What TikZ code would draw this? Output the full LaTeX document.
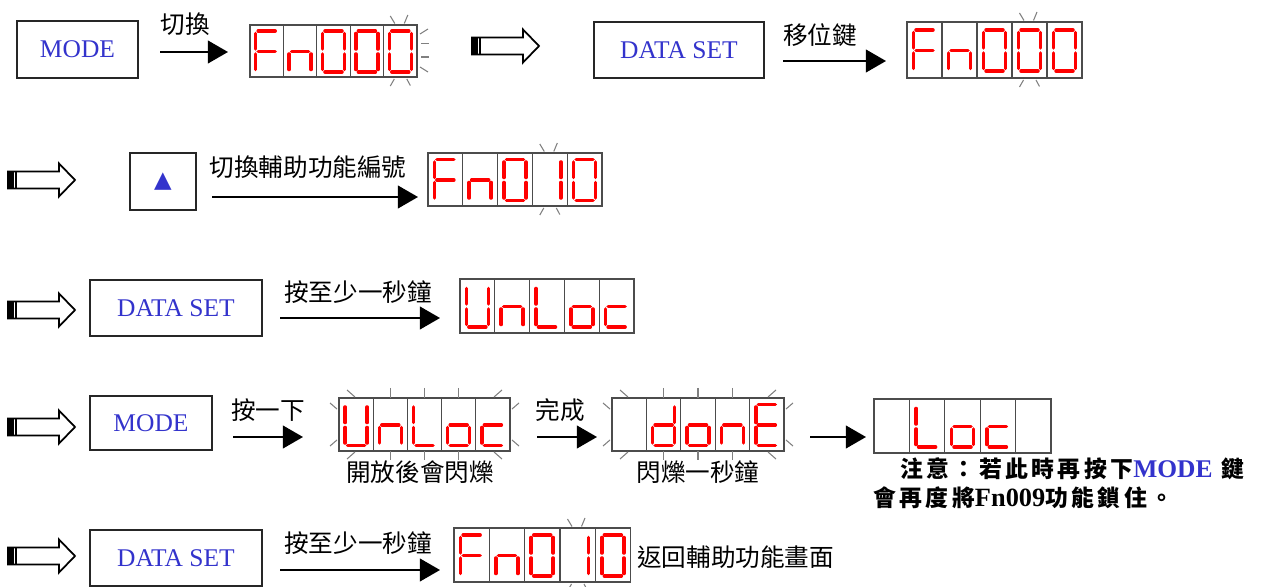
\documentclass[tikz,border=0pt]{standalone}
\usepackage{fontspec}
\setmainfont{Liberation Serif}
\newfontfamily\cjk{Noto Sans CJK TC}
\newfontfamily\cjknote[LetterSpace=15]{Noto Sans CJK TC}
\newfontfamily\glyphfont{DejaVu Sans}
\usepackage{tikz}
\usetikzlibrary{arrows.meta,calc}

\definecolor{keyblue}{RGB}{51,51,204}
\definecolor{segred}{RGB}{255,0,0}

% seven-segment pieces, relative to the cell centre (px)
\newcommand{\segA}{\draw[seg] (-8.5,-20.5) -- (8.5,-20.5);}
\newcommand{\segB}{\draw[seg] (11,-18) -- (11,-2.5);}
\newcommand{\segC}{\draw[seg] (11,2.5) -- (11,18);}
\newcommand{\segD}{\draw[seg] (-8.5,20.5) -- (8.5,20.5);}
\newcommand{\segE}{\draw[seg] (-11,2.5) -- (-11,18);}
\newcommand{\segF}{\draw[seg] (-11,-18) -- (-11,-2.5);}
\newcommand{\segG}{\draw[seg] (-8.5,0) -- (8.5,0);}
\newcommand{\dgF}{\segA\segF\segE\segG}
\newcommand{\dgn}{\segC\segE\segG}
\newcommand{\dgO}{\segA\segB\segC\segD\segE\segF}
\newcommand{\dgI}{\segB\segC}
\newcommand{\dgU}{\segB\segC\segD\segE\segF}
\newcommand{\dgL}{\segD\segE\segF}
\newcommand{\dgo}{\segC\segD\segE\segG}
\newcommand{\dgc}{\segD\segE\segG}
\newcommand{\dgd}{\segB\segC\segD\segE\segG}
\newcommand{\dgE}{\segA\segD\segE\segF\segG}
\newcommand{\dgX}{}

% display: name, left, top, cell width, height, five digits
\newcommand{\ledpanel}[6]{%
  \node[panel,minimum width=5*#4*0.02cm,minimum height=#5*0.02cm] (#1) at (#2+2.5*#4,#3+0.5*#5) {};
  \foreach \k in {1,...,4}
    \draw[panel] (#2+\k*#4,#3) -- (#2+\k*#4,#3+#5);
  \foreach \dg [count=\k] in {#6}
    {\begin{scope}[shift={(#2+\k*#4-0.5*#4,#3+0.5*#5+0.5)}]\dg\end{scope}}
}

% blinking marks: one cell (centre x, top, bottom)
\newcommand{\blinkcell}[3]{%
  \draw[ray] (#1-10,#2-9) -- (#1-5.5,#2-1.5);
  \draw[ray] (#1+7.5,#2-10) -- (#1+4,#2-1.5);
  \draw[ray] (#1-10,#3+9) -- (#1-6,#3+2);
  \draw[ray] (#1+10,#3+8.5) -- (#1+6.5,#3+2);
}
% blinking marks: whole display (left, top, right, bottom, cell width)
\newcommand{\blinkall}[5]{%
  \draw[ray] (#1+8,#2-8) -- (#1+16,#2-1);
  \draw[ray] (#3-8,#2-8) -- (#3-16,#2-1);
  \draw[ray] (#1+8,#4+8) -- (#1+16,#4+1);
  \draw[ray] (#3-8,#4+8) -- (#3-16,#4+1);
  \draw[ray] (#1-9,#2+5) -- (#1-2,#2+11);
  \draw[ray] (#1-9,#4-5) -- (#1-2,#4-11);
  \draw[ray] (#3+9,#2+5) -- (#3+2,#2+11);
  \draw[ray] (#3+9,#4-5) -- (#3+2,#4-11);
  \foreach \k in {2,3,4} {
    \draw[ray] (#1+\k*#5-0.5*#5,#2-10) -- (#1+\k*#5-0.5*#5,#2);
    \draw[ray] (#1+\k*#5-0.5*#5,#4) -- (#1+\k*#5-0.5*#5,#4+9);
  }
}

\tikzset{
  hollow arrow/.pic={
    \draw[line width=1pt,fill=white] (0,-8.5) -- (51,-8.5) -- (51,-16.5) -- (67,0) -- (51,16.5) -- (51,8.5) -- (0,8.5) -- cycle;
    \fill (0,-8.5) rectangle (5.5,8.5);
    \fill (7,-8.5) rectangle (9,8.5);
  }
}

\begin{document}
\begin{tikzpicture}[x=0.02cm,y=-0.02cm,
    keybox/.style={draw=black!85,line width=1pt,inner sep=0,text=keyblue,font=\fontsize{14.5}{16}\selectfont},
    lbl/.style={inner sep=0,font=\cjk\fontsize{14}{16}\selectfont},
    note/.style={inner sep=0,anchor=west,font=\cjknote\bfseries\fontsize{13}{15}\selectfont},
    arr/.style={-{Triangle[length=11.5pt,width=13pt]},line width=1pt},
    panel/.style={draw=black!70,line width=0.7pt,inner sep=0},
    seg/.style={draw=segred,line width=2pt,line cap=round},
    ray/.style={draw=black!50,line width=0.6pt}
]
\useasboundingbox (0,0) rectangle (1269,587);

% row 1
\node[keybox,minimum width=2.42cm,minimum height=1.14cm] (mode1) at (77.5,49.5) {MODE};
\node[lbl] (t1) at (185,24) {切換};
\coordinate (a1) at (160,52);
\coordinate (b1) at (228,52);
\draw[arr] (a1) -- (b1);
\ledpanel{pA}{250}{25}{33.4}{52}{\dgF,\dgn,\dgO,\dgO,\dgO}
\blinkcell{400.3}{25}{77}
\draw[ray] (420,34) -- (428,29);
\draw[ray] (421,43.5) -- (428.5,43.5);
\draw[ray] (421,57) -- (428.5,57);
\draw[ray] (420,67) -- (428,72);
\pic at (472,46) {hollow arrow};
\node[keybox,minimum width=3.4cm,minimum height=1.12cm] (ds1) at (679,50) {DATA SET};
\node[lbl] (t2) at (820,35) {移位鍵};
\coordinate (a2) at (783,61);
\coordinate (b2) at (886,61);
\draw[arr] (a2) -- (b2);
\ledpanel{pB}{907}{22}{35}{56}{\dgF,\dgn,\dgO,\dgO,\dgO}
\blinkcell{1029.5}{22}{78}

% row 2
\pic at (8,180) {hollow arrow};
\node[keybox,minimum width=1.32cm,minimum height=1.14cm,font=\glyphfont\fontsize{13}{15}\selectfont] (up) at (163,181.5) {▲};
\node[lbl] (t3) at (308,167) {切換輔助功能編號};
\coordinate (a3) at (212,197);
\coordinate (b3) at (418,197);
\draw[arr] (a3) -- (b3);
\ledpanel{pC}{428}{153}{34.8}{53}{\dgF,\dgn,\dgO,\dgI,\dgO}
\blinkcell{549.8}{153}{206}

% row 3
\pic at (8,310) {hollow arrow};
\node[keybox,minimum width=3.44cm,minimum height=1.12cm] (ds2) at (176,308) {DATA SET};
\node[lbl] (t4) at (358,292) {按至少一秒鐘};
\coordinate (a4) at (280,318);
\coordinate (b4) at (440,318);
\draw[arr] (a4) -- (b4);
\ledpanel{pD}{460}{279}{34.8}{54}{\dgU,\dgn,\dgL,\dgo,\dgc}

% row 4
\pic at (8,427) {hollow arrow};
\node[keybox,minimum width=2.44cm,minimum height=1.08cm] (mode2) at (151,423) {MODE};
\node[lbl] (t5) at (268,410) {按一下};
\coordinate (a5) at (233,437);
\coordinate (b5) at (303,437);
\draw[arr] (a5) -- (b5);
\ledpanel{pE}{339}{398}{34.2}{53}{\dgU,\dgn,\dgL,\dgo,\dgc}
\blinkall{339}{398}{510}{451}{34.2}
\node[lbl] (t6) at (420,472) {開放後會閃爍};
\node[lbl] (t7) at (560,410) {完成};
\coordinate (a6) at (537,437);
\coordinate (b6) at (597,437);
\draw[arr] (a6) -- (b6);
\ledpanel{pF}{612}{398}{34.4}{53}{\dgX,\dgd,\dgo,\dgn,\dgE}
\blinkall{612}{398}{784}{451}{34.4}
\node[lbl] (t8) at (698,472) {閃爍一秒鐘};
\coordinate (a7) at (810,437);
\coordinate (b7) at (866,437);
\draw[arr] (a7) -- (b7);
\ledpanel{pG}{874}{399}{35.4}{54}{\dgX,\dgL,\dgo,\dgc,\dgX}
\node[note] (n1) at (900,469) {注意：若此時再按下\textcolor{keyblue}{\rmfamily\fontsize{14.5}{16}\selectfont MODE} 鍵};
\node[note] (n2) at (873,498) {會再度將{\rmfamily\fontsize{15}{16}\selectfont Fn009}功能鎖住。};

% row 5
\pic at (8,556) {hollow arrow};
\node[keybox,minimum width=3.44cm,minimum height=1.12cm] (ds3) at (176,558) {DATA SET};
\node[lbl] (t9) at (358,543) {按至少一秒鐘};
\coordinate (a8) at (280,570);
\coordinate (b8) at (440,570);
\draw[arr] (a8) -- (b8);
\ledpanel{pH}{454}{528}{35.3}{54}{\dgF,\dgn,\dgO,\dgI,\dgO}
\blinkcell{577.5}{528}{582}
\node[lbl,anchor=west] (t10) at (637,557) {返回輔助功能畫面};
\end{tikzpicture}
\end{document}
